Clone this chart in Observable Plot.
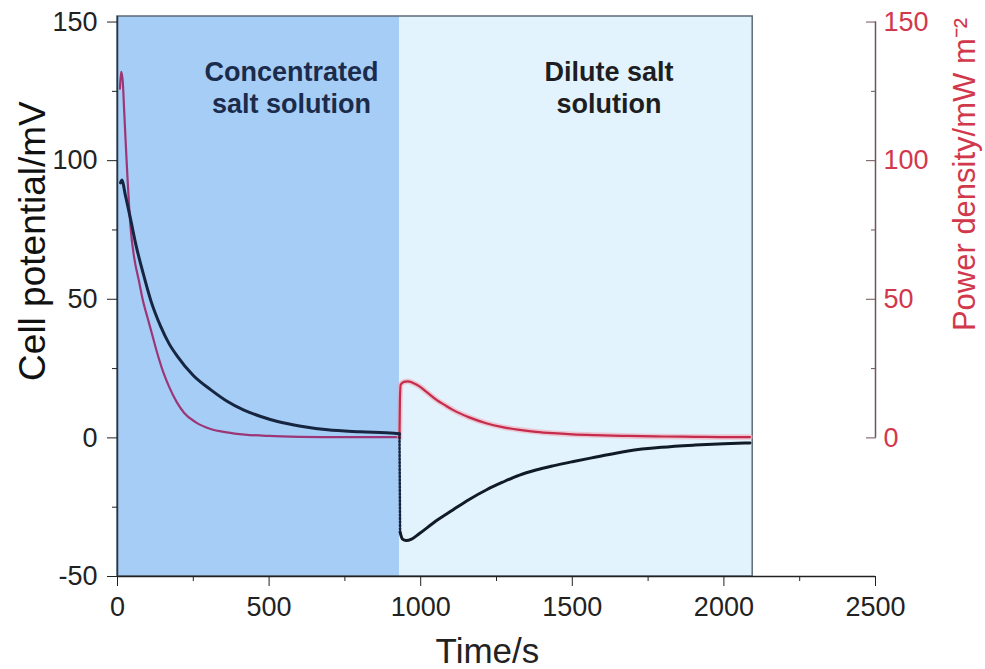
<!DOCTYPE html>
<html>
<head>
<meta charset="utf-8">
<script src="https://cdn.jsdelivr.net/npm/d3@7"></script>
<script src="https://cdn.jsdelivr.net/npm/@observablehq/plot@0.6"></script>
<style>
  body { margin: 0; background: #fff; }
  #chart svg { display: block; }
</style>
</head>
<body>
<div id="chart"></div>
<script>
// Feed phases of the switching experiment (time in s)
const phaseNames = ["Concentrated\nsalt solution", "Dilute salt\nsolution"];
const phaseStart = [0, 930];
const phaseEnd = [930, 2095];

// Cell potential (mV) while the concentrated solution is fed
const concTime = [10, 15, 25, 43, 60, 87, 110, 142, 170, 197, 250, 307, 360, 417, 470, 528, 600, 693, 800, 913, 930];
const concPotential = [92, 93, 88, 79, 70, 58.4, 49.5, 40.3, 34, 29.5, 22.5, 17.4, 13.3, 10, 7.8, 5.9, 4.3, 2.9, 2.2, 1.7, 1.5];

// Cell potential jump when the feed is switched
const switchTime = [930, 932];
const switchPotential = [1.5, -34];

// Cell potential (mV) while the dilute solution is fed
const diluteTime = [932, 940, 952, 970, 996, 1050, 1106, 1160, 1216, 1270, 1326, 1380, 1436, 1500, 1574, 1684, 1794, 1905, 2000, 2086];
const dilutePotential = [-34, -36.5, -37, -36.5, -34.5, -30, -26, -22.2, -18.8, -16, -13.4, -11.6, -10.1, -8.6, -7, -4.7, -3.4, -2.6, -2.1, -1.8];

// Power density (mW m^-2), concentrated phase
const concPowerTime = [8, 12, 17, 22, 30, 43, 55, 70, 85, 100, 115, 130, 150, 170, 195, 220, 260, 307, 360, 420, 500, 600, 700, 800, 930];
const concPower = [126, 132, 129, 118, 100, 76, 65, 57, 49, 43, 37, 31, 24, 18.5, 13, 9, 5.5, 3.2, 2, 1.2, 0.7, 0.4, 0.3, 0.3, 0.3];

// Power density (mW m^-2), dilute phase
const dilutePowerTime = [930, 931.5, 934, 945, 957, 975, 996, 1020, 1051, 1080, 1106, 1160, 1216, 1270, 1326, 1380, 1436, 1500, 1574, 1684, 1800, 1905, 2000, 2086];
const dilutePower = [0, 14, 19.2, 20.2, 20.4, 19.8, 18.6, 16.5, 13.8, 11.8, 10.1, 7.4, 5.3, 3.9, 2.9, 2.2, 1.7, 1.3, 1.0, 0.7, 0.5, 0.4, 0.3, 0.3];

// Tick values
const timeTicks = [0, 500, 1000, 1500, 2000, 2500];
const timeMinorTicks = [250, 750, 1250, 1750, 2250];
const potentialTicks = [-50, 0, 50, 100, 150];
const potentialMinorTicks = [-25, 25, 75, 125];
const powerTicks = [0, 50, 100, 150];
const powerMinorTicks = [25, 75, 125];

// Axis titles
const timeTitle = "Time/s";
const potentialTitle = "Cell potential/mV";
const powerTitle = "Power density/mW m\u207B\u00B2";

const zip = (xs, ys) => xs.map((x, i) => ({x, y: ys[i]}));
const phases = phaseNames.map((name, i) => ({name, start: phaseStart[i], end: phaseEnd[i], mid: (phaseStart[i] + phaseEnd[i]) / 2}));

const phaseFill = ["#a6cdf6", "#e2f3fd"];
const phaseInk = ["#1b2b4b", "#1e1e22"];
const navy = "#172540";
const red = "#c52b4a";
const powerInk = "#d2384c";
const axisInk = "#6e5458";
const font = "'Liberation Sans', Arial, Helvetica, sans-serif";
const plain = (d) => String(d);

const chart = Plot.plot({
  width: 985,
  height: 669,
  marginLeft: 117,
  marginRight: 110,
  marginTop: 16,
  marginBottom: 93,
  style: {fontFamily: font, fontSize: "27px", background: "transparent", color: "#222"},
  x: {domain: [0, 2500]},
  y: {domain: [-50, 152]},
  marks: [
    // shaded feed phases
    ...phases.map((p, i) => Plot.rect([p], {x1: "start", x2: "end", fill: phaseFill[i]})),
    // frame around the measured interval
    Plot.rect([{start: phaseStart[0], end: phaseEnd[1]}], {x1: "start", x2: "end", fill: "none", stroke: "#5d6b78", strokeWidth: 1.5}),

    // phase labels
    ...phases.map((p, i) => Plot.text([p], {
      x: "mid", text: "name", frameAnchor: "top", lineAnchor: "top",
      dx: 33, dy: 42, fontSize: 27, fontWeight: "bold", lineHeight: 1.18, fill: phaseInk[i]
    })),

    // power density (same pixel scale as the potential, zero aligned)
    Plot.line(zip(concPowerTime, concPower), {x: "x", y: "y", stroke: "#9c3676", strokeWidth: 2.2, curve: "monotone-x"}),
    Plot.line(zip(dilutePowerTime, dilutePower), {x: "x", y: "y", stroke: "#f3a3b2", strokeOpacity: 0.55, strokeWidth: 5.5, curve: "monotone-x"}),
    Plot.line(zip(dilutePowerTime, dilutePower), {x: "x", y: "y", stroke: red, strokeWidth: 2.2, curve: "monotone-x"}),

    // cell potential
    Plot.line(zip(concTime, concPotential), {x: "x", y: "y", stroke: navy, strokeWidth: 3, curve: "monotone-x"}),
    Plot.line(zip(switchTime, switchPotential), {x: "x", y: "y", stroke: navy, strokeWidth: 2.5, strokeDasharray: "1.5,2"}),
    Plot.line(zip(diluteTime, dilutePotential), {x: "x", y: "y", stroke: "#111a28", strokeWidth: 3, curve: "monotone-x"}),

    // axis lines
    Plot.ruleY([-50], {stroke: "#222", strokeWidth: 1.5}),
    Plot.ruleX([0], {stroke: "#2c3440", strokeWidth: 1.5}),
    Plot.ruleX([2500], {y1: d3.min(powerTicks), y2: d3.max(powerTicks), stroke: axisInk, strokeWidth: 1.5}),

    // bottom axis
    Plot.axisX({ticks: timeTicks, tickFormat: plain, tickSize: 10, tickPadding: 10, fontSize: 27, label: null, stroke: "#222", fill: "#222"}),
    Plot.axisX({ticks: timeMinorTicks, tickSize: 5, tickFormat: () => "", label: null, stroke: "#222"}),
    Plot.text([timeTitle], {x: 1220, frameAnchor: "bottom", lineAnchor: "top", dy: 62, fontSize: 35, fill: "#222"}),

    // left axis: cell potential
    Plot.axisY({anchor: "left", ticks: potentialTicks, tickFormat: plain, tickSize: 10, tickPadding: 10, fontSize: 27, label: null, stroke: "#222", fill: "#222"}),
    Plot.axisY({anchor: "left", ticks: potentialMinorTicks, tickSize: 5, tickFormat: () => "", label: null, stroke: "#222"}),
    Plot.text([potentialTitle], {y: 71, frameAnchor: "left", rotate: -90, textAnchor: "middle", lineAnchor: "middle", dx: -84, fontSize: 37, fill: "#111"}),

    // right axis: power density, ticks turned towards the plot
    Plot.axisY({anchor: "right", ticks: powerTicks, tickFormat: plain, tickSize: 10, dx: -10, tickPadding: 8, fontSize: 27, label: null, stroke: axisInk, fill: powerInk}),
    Plot.axisY({anchor: "right", ticks: powerMinorTicks, tickSize: 5, dx: -5, tickFormat: () => "", label: null, stroke: axisInk}),
    Plot.text([powerTitle], {y: 95, frameAnchor: "right", rotate: -90, textAnchor: "middle", lineAnchor: "middle", dx: 90, fontSize: 31, fill: powerInk})
  ]
});

document.getElementById("chart").appendChild(chart);
</script>
</body>
</html>
